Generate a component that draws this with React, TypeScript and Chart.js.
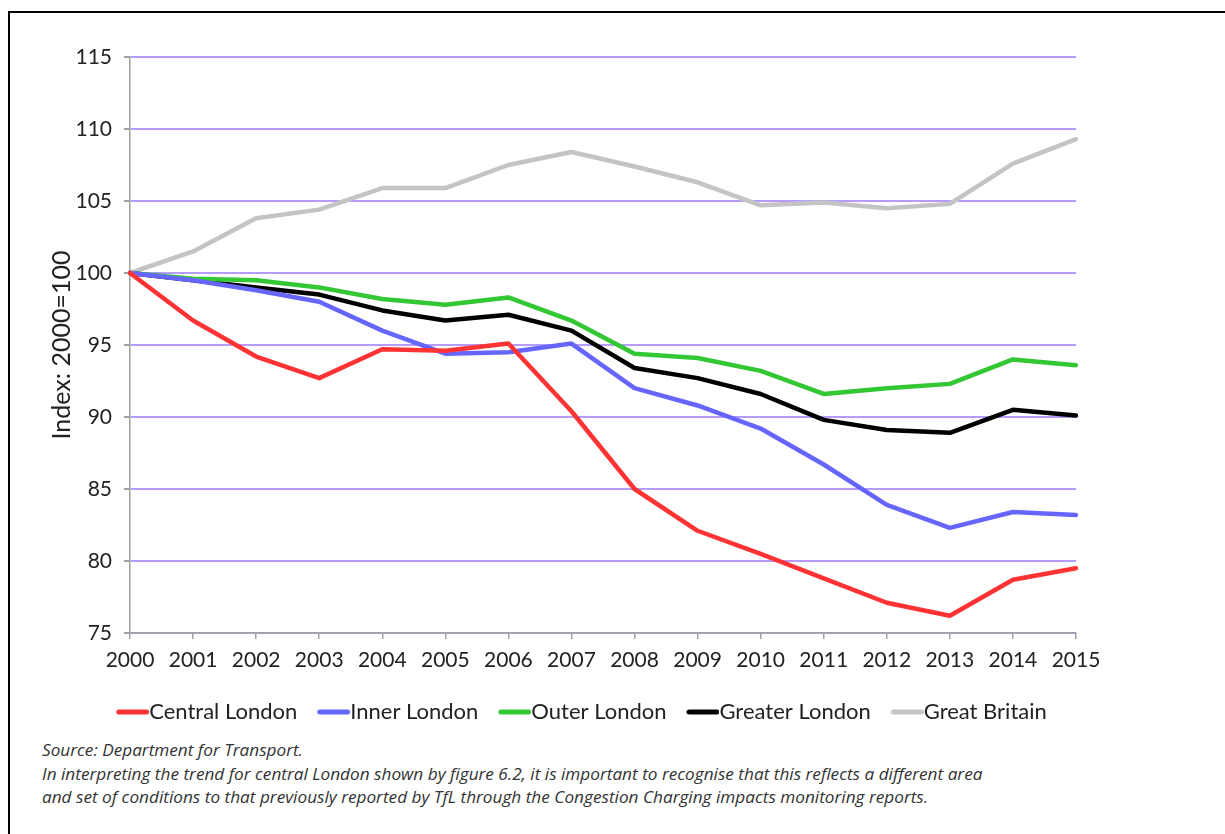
import React, { useEffect, useRef } from "react";
import { Chart, registerables } from "chart.js";

Chart.register(...registerables);

const years = ["2000","2001","2002","2003","2004","2005","2006","2007","2008","2009","2010","2011","2012","2013","2014","2015"];
const centralLondon = [100, 96.7, 94.2, 92.7, 94.7, 94.6, 95.1, 90.4, 85.0, 82.1, 80.5, 78.8, 77.1, 76.2, 78.7, 79.5];
const innerLondon = [100, 99.5, 98.8, 98.0, 96.0, 94.4, 94.5, 95.1, 92.0, 90.8, 89.2, 86.7, 83.9, 82.3, 83.4, 83.2];
const outerLondon = [100, 99.6, 99.5, 99.0, 98.2, 97.8, 98.3, 96.7, 94.4, 94.1, 93.2, 91.6, 92.0, 92.3, 94.0, 93.6];
const greaterLondon = [100, 99.5, 99.0, 98.5, 97.4, 96.7, 97.1, 96.0, 93.4, 92.7, 91.6, 89.8, 89.1, 88.9, 90.5, 90.1];
const greatBritain = [100, 101.5, 103.8, 104.4, 105.9, 105.9, 107.5, 108.4, 107.4, 106.3, 104.7, 104.9, 104.5, 104.8, 107.6, 109.3];
const seriesNames = ["Central London", "Inner London", "Outer London", "Greater London", "Great Britain"];
const seriesColors = ["#ff3333", "#6666ff", "#33c733", "#000000", "#c4c4c4"];
const yTickMin = 75;
const yTickMax = 115;
const yTickStep = 5;
const yTitle = "Index: 2000=100";
const footnotes = [
  "Source: Department for Transport.",
  "In interpreting the trend for central London shown by figure 6.2, it is important to recognise that this reflects a different area",
  "and set of conditions to that previously reported by TfL through the Congestion Charging impacts monitoring reports.",
];

function makeLegendLine(color: string): HTMLCanvasElement {
  const c = document.createElement("canvas");
  c.width = 44;
  c.height = 8;
  const ctx = c.getContext("2d")!;
  ctx.strokeStyle = color;
  ctx.lineWidth = 5;
  ctx.lineCap = "round";
  ctx.beginPath();
  ctx.moveTo(13.5, 4);
  ctx.lineTo(41.5, 4);
  ctx.stroke();
  return c;
}

export default function App() {
  const ref = useRef<HTMLCanvasElement>(null);

  useEffect(() => {
    if (!ref.current) return;
    const allSeries = [centralLondon, innerLondon, outerLondon, greaterLondon, greatBritain];
    const legendImgs = seriesColors.map(makeLegendLine);
    const chart = new Chart(ref.current, {
      type: "line",
      data: {
        labels: years,
        datasets: allSeries.map((d, i) => ({
          label: seriesNames[i],
          data: d,
          borderColor: seriesColors[i],
          backgroundColor: seriesColors[i],
          borderWidth: 4.5,
          pointRadius: 0,
          tension: 0,
          fill: false,
          borderJoinStyle: "round" as const,
          borderCapStyle: "round" as const,
        })),
      },
      options: {
        animation: false,
        responsive: false,
        maintainAspectRatio: false,
        layout: { padding: { left: 46, right: 0, top: 57, bottom: 0 } },
        plugins: {
          tooltip: { enabled: false },
          legend: {
            position: "bottom",
            labels: {
              usePointStyle: true,
              pointStyleWidth: 22,
              padding: 20,
              color: "#222",
              font: { family: "Lato", size: 22 },
              generateLabels: (ch: any) =>
                ch.data.datasets.map((ds: any, i: number) => ({
                  text: ds.label,
                  pointStyle: legendImgs[i],
                  fillStyle: seriesColors[i],
                  strokeStyle: seriesColors[i],
                  lineWidth: 0,
                  hidden: false,
                  datasetIndex: i,
                  fontColor: "#222",
                })),
            },
          },
        },
        scales: {
          x: {
            type: "category",
            offset: false,
            grid: { display: true, drawOnChartArea: false, drawTicks: true, tickLength: 6, color: "#a0a0a0", lineWidth: 1.5 },
            border: { display: true, color: "#a0a0a0", width: 1.5 },
            ticks: { color: "#222", font: { family: "Lato", size: 21 }, padding: 9, maxRotation: 0, autoSkip: false },
            afterFit: (s: any) => { s.height = 48; },
          },
          y: {
            min: yTickMin,
            max: yTickMax,
            position: "left",
            grid: { color: "#b69cff", lineWidth: 2, tickColor: "#a0a0a0", tickLength: 6, drawTicks: true },
            border: { display: true, color: "#a0a0a0", width: 1.5 },
            ticks: { stepSize: yTickStep, color: "#222", font: { family: "Lato", size: 21 }, padding: 12 },
            title: { display: true, text: yTitle, color: "#222", font: { family: "Lato", size: 25 }, padding: { top: 1, bottom: 1 } },
            afterFit: (s: any) => { s.width = 84; },
          },
          yR: {
            type: "linear",
            position: "right",
            display: true,
            grid: { display: false, drawOnChartArea: false },
            border: { display: false },
            ticks: { display: false },
            afterFit: (s: any) => { s.width = 41; },
          },
        },
      },
    } as any);
    return () => chart.destroy();
  }, []);

  return (
    <div style={{ position: "absolute", left: 0, top: 0, width: 1225, height: 834, overflow: "hidden", background: "#fff" }}>
      <div
        style={{
          position: "absolute",
          left: 8,
          top: 11,
          width: 1400,
          height: 1000,
          borderTop: "2px solid #000",
          borderLeft: "2px solid #000",
        }}
      />
      <canvas ref={ref} width={1117} height={733} style={{ position: "absolute", left: 0, top: 0, width: 1117, height: 733 }} />
      <div
        style={{
          position: "absolute",
          left: 42,
          top: 738,
          fontFamily: "'Open Sans'",
          fontStyle: "italic",
          fontSize: 17.2,
          lineHeight: "23.5px",
          color: "#333",
          whiteSpace: "nowrap",
        }}
      >
        {footnotes.map((t, i) => (
          <div key={i}>{t}</div>
        ))}
      </div>
    </div>
  );
}
